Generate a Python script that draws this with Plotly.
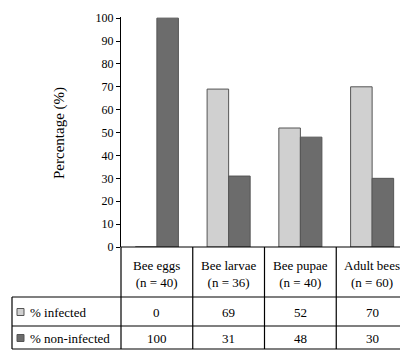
import plotly.graph_objects as go

# data
stages = ["Bee eggs", "Bee larvae", "Bee pupae", "Adult bees"]
n_values = [40, 36, 40, 60]
pct_infected = [0, 69, 52, 70]
pct_non_infected = [100, 31, 48, 30]
row_labels = ["% infected", "% non-infected"]
y_ticks = [0, 10, 20, 30, 40, 50, 60, 70, 80, 90, 100]

FONT = "Liberation Serif"
OFF = 8  # page body margin in the browser
W, H = 408 - OFF, 350 - OFF
L, R, T, B = 121 - OFF, 0, 17 - OFF, 350 - 247
plot_w = W - L - R
plot_h = H - T - B

# reference pixel -> paper helpers (for the table drawn under the plot)
def px(x):
    return (x - OFF - L) / plot_w

def py(y):
    return (H - B - (y - OFF)) / plot_h

LIGHT = "#d0d0d0"
DARK = "#6c6c6c"
EDGE = "#555555"

fig = go.Figure()
fig.add_trace(go.Bar(x=stages, y=pct_infected, name=row_labels[0],
                     marker=dict(color=LIGHT, line=dict(color=EDGE, width=1))))
fig.add_trace(go.Bar(x=stages, y=pct_non_infected, name=row_labels[1],
                     marker=dict(color=DARK, line=dict(color=EDGE, width=1))))

line = dict(color="black", width=1.2)
shapes = []
# table horizontal lines
shapes.append(dict(type="line", xref="paper", yref="paper", x0=0, x1=1, y0=0, y1=0, line=line))
for yy in [297, 326, 349]:
    shapes.append(dict(type="line", xref="paper", yref="paper", x0=px(12), x1=1,
                       y0=py(yy), y1=py(yy), line=line))
# left border of legend column + divider at axis
shapes.append(dict(type="line", xref="paper", yref="paper", x0=px(12), x1=px(12),
                   y0=py(297), y1=py(349), line=line))
shapes.append(dict(type="line", xref="paper", yref="paper", x0=0, x1=0,
                   y0=0, y1=py(349), line=line))
# column dividers between categories
for k in range(len(stages) - 1):
    shapes.append(dict(type="line", xref="x", yref="paper", x0=k + 0.5, x1=k + 0.5,
                       y0=0, y1=py(349), line=line))
# legend squares
for yy, col in [(312, LIGHT), (338, DARK)]:
    shapes.append(dict(type="rect", xref="paper", yref="paper", x0=px(17), x1=px(24),
                       y0=py(yy - 3.5), y1=py(yy + 3.5), fillcolor=col,
                       line=dict(color=EDGE, width=1)))

ann = []
tf = dict(family=FONT, size=13, color="black")
for s, n in zip(stages, n_values):
    ann.append(dict(x=s, xref="x", y=py(274), yref="paper", showarrow=False,
                    text=f"{s}<br>(n = {n})", font=tf, align="center",
                    xanchor="center", yanchor="middle"))
for row_y, vals in [(312, pct_infected), (338, pct_non_infected)]:
    for s, v in zip(stages, vals):
        ann.append(dict(x=s, xref="x", y=py(row_y), yref="paper", showarrow=False,
                        text=str(v), font=tf, xanchor="center", yanchor="middle"))
for row_y, lab in [(312, row_labels[0]), (338, row_labels[1])]:
    ann.append(dict(x=px(28), xref="paper", y=py(row_y), yref="paper", showarrow=False,
                    text=lab, font=tf, xanchor="left", yanchor="middle"))
ann.append(dict(x=px(59), xref="paper", y=py(133), yref="paper", showarrow=False,
                text="Percentage (%)", textangle=-90, xanchor="center", yanchor="middle",
                font=dict(family=FONT, size=15, color="black")))

fig.update_layout(
    width=W, height=H,
    margin=dict(l=L, r=R, t=T, b=B, autoexpand=False),
    paper_bgcolor="white", plot_bgcolor="white",
    barmode="group", bargap=0.4, bargroupgap=0,
    showlegend=False,
    shapes=shapes, annotations=ann,
    font=dict(family=FONT, color="black"),
)
fig.update_xaxes(showticklabels=False, showgrid=False, zeroline=False, ticks="")
fig.update_yaxes(range=[0, 100.5], tickvals=y_ticks, showgrid=False, zeroline=False,
                 showline=True, linecolor="black", linewidth=1.2,
                 ticks="outside", ticklen=4, tickcolor="black",
                 tickfont=dict(family=FONT, size=12, color="black"))

fig.write_html("out.html")
